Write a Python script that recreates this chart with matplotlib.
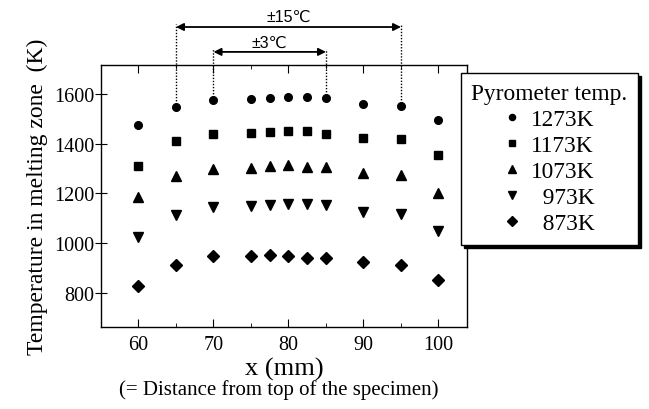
import numpy as np
import matplotlib
matplotlib.use("Agg")
import matplotlib.pyplot as plt
import matplotlib.transforms as mtransforms

# data
x = [60, 65, 70, 75, 77.5, 80, 82.5, 85, 90, 95, 100]
t1273 = [1476, 1546, 1576, 1579, 1583, 1588, 1588, 1583, 1559, 1550, 1496]
t1173 = [1311, 1409, 1437, 1443, 1447, 1451, 1452, 1439, 1424, 1418, 1356]
t1073 = [1187, 1271, 1298, 1303, 1309, 1314, 1305, 1305, 1281, 1275, 1200]
t973 = [1024, 1115, 1144, 1151, 1155, 1157, 1157, 1155, 1127, 1118, 1048]
t873 = [829, 914, 947, 950, 953, 950, 941, 941, 923, 914, 852]
labels = ["1273K", "1173K", "1073K", "  973K", "  873K"]

serif = "Liberation Serif"
sans = ["Liberation Sans", "DejaVu Sans"]

fig = plt.figure(figsize=(6.49, 4.10), dpi=100)
ax = fig.add_axes([101/649, 1-328/410, (467-101)/649, (328-66)/410])

series = [t1273, t1173, t1073, t973, t873]
markers = ["o", "s", "^", "v", "D"]
sizes = [5.5, 5.5, 6.5, 6.5, 5.8]
for s, m, ms, lab in zip(series, markers, sizes, labels):
    ax.plot(x, s, linestyle="none", marker=m, color="black", markersize=ms, label=lab)

ax.set_xlim(55, 103.8)
ax.set_ylim(663, 1716)
ax.set_xticks([60, 70, 80, 90, 100])
ax.set_xticks([65, 75, 85, 95], minor=True)
ax.set_yticks([800, 1000, 1200, 1400, 1600])
ax.tick_params(axis="x", which="both", direction="in", top=True, labelsize=14.5, pad=6)
ax.tick_params(axis="x", which="major", length=6)
ax.tick_params(axis="x", which="minor", length=3)
ax.tick_params(axis="y", direction="inout", length=8, labelsize=14.5, pad=1)
for lbl in ax.get_xticklabels() + ax.get_yticklabels():
    lbl.set_fontfamily(serif)
for sp in ax.spines.values():
    sp.set_linewidth(1.0)

ax.set_xlabel("x (mm)", fontsize=19, family=serif, labelpad=2)
ax.set_ylabel("Temperature in melting zone  (K)", fontsize=17, family=serif, labelpad=4)
fig.text(0.43, 1-390/410, "(= Distance from top of the specimen)", fontsize=15,
         family=serif, ha="center", va="center")

# dotted guides and arrows above the plot
trans = mtransforms.blended_transform_factory(ax.transData, ax.transAxes)
ytop_out, ytop_in = 1.156, 1.061
for i, yt in [(1, ytop_out), (9, ytop_out), (2, ytop_in), (7, ytop_in)]:
    yb = ax.transAxes.inverted().transform(ax.transData.transform((x[i], t1273[i])))[1]
    ax.plot([x[i], x[i]], [yb, yt], transform=trans, linestyle=(0, (1, 1.2)),
            color="black", linewidth=1.0, clip_on=False)

for i, j, ya in [(1, 9, 1.145), (2, 7, 1.050)]:
    ax.annotate("", xy=(x[i], ya), xytext=(x[j], ya), xycoords=trans, textcoords=trans,
                arrowprops=dict(arrowstyle="<|-|>", color="black", lw=1.3,
                                shrinkA=0, shrinkB=0, mutation_scale=11))
ax.text(80, 1.187, "\u00b115\u2103", transform=trans, ha="center", va="center",
        fontsize=11.5, family=sans)
ax.text(77.5, 1.088, "\u00b13\u2103", transform=trans, ha="center", va="center",
        fontsize=11.5, family=sans)

leg = fig.legend(loc="upper left", bbox_to_anchor=(461/649, 1-74/410),
                 title="Pyrometer temp.", prop={"family": serif, "size": 16.8},
                 title_fontproperties={"family": serif, "size": 16.8},
                 frameon=True, fancybox=False, shadow={"color": "black", "alpha": 1},
                 edgecolor="black", framealpha=1, markerscale=0.8,
                 handlelength=0.6, handletextpad=0.5, labelspacing=0.2,
                 borderpad=0.45, borderaxespad=0)
leg.get_frame().set_linewidth(1.0)

fig.savefig("out.png", dpi=100)
